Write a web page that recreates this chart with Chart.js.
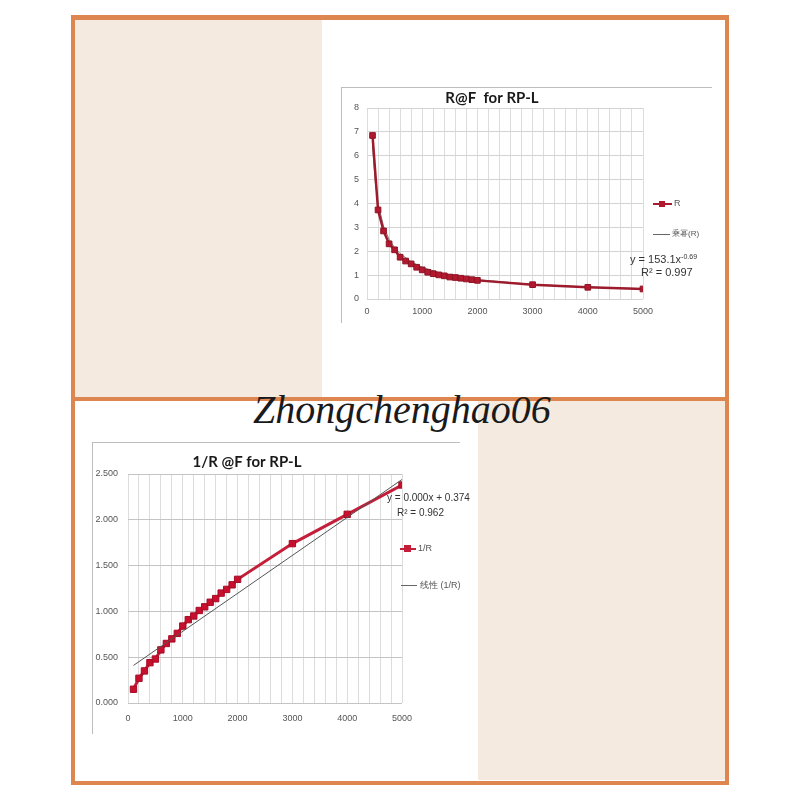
<!DOCTYPE html>
<html>
<head>
<meta charset="utf-8">
<script src="https://cdn.jsdelivr.net/npm/chart.js@4"></script>
<style>
  html,body{margin:0;padding:0;background:#fff;}
  body{width:800px;height:800px;position:relative;overflow:hidden;font-family:"Liberation Sans",Arial,sans-serif;}
  .abs{position:absolute;}
  #frame{left:71px;top:15px;width:650px;height:761px;border:4px solid #de8650;border-top-width:5px;}
  #divider{left:71px;top:397px;width:658px;height:4px;background:#de8650;}
  .beige{background:#f4eadf;}
  .gl{background:#bdbdbd;}
  .txt{color:#555;font-size:9px;white-space:nowrap;line-height:1;}
  .eq{color:#333;font-size:11px;white-space:nowrap;line-height:1;}
  canvas{position:absolute;}
  #wm{left:0;width:804px;top:390px;text-align:center;font-family:"Liberation Serif","DejaVu Serif",serif;font-style:italic;font-size:40px;color:#1a1a1a;line-height:1;}
</style>
</head>
<body>
<div class="abs beige" style="left:75px;top:20px;width:247px;height:377px;"></div>
<div class="abs beige" style="left:478px;top:401px;width:247px;height:379px;"></div>
<div id="frame" class="abs"></div>
<div id="divider" class="abs"></div>

<!-- chart frames -->
<div class="abs gl" style="left:341px;top:87px;width:371px;height:1px;"></div>
<div class="abs gl" style="left:341px;top:87px;width:1px;height:236px;"></div>
<div class="abs gl" style="left:92px;top:442px;width:368px;height:1px;"></div>
<div class="abs gl" style="left:92px;top:442px;width:1px;height:292px;"></div>

<canvas id="c1" width="406" height="240" style="left:341px;top:87px;"></canvas>
<canvas id="c2" width="370" height="292" style="left:92px;top:442px;"></canvas>

<!-- top legend & equation -->
<div class="abs" style="left:653px;top:203px;width:19px;height:2px;background:#a51c30;"></div>
<div class="abs" style="left:659px;top:201px;width:6px;height:6px;background:#b3182f;"></div>
<div class="abs txt" style="left:674px;top:199px;">R</div>
<div class="abs" style="left:653px;top:234px;width:17px;height:1px;background:#666;"></div>
<div class="abs txt" style="left:672px;top:230px;font-size:8px;">乘幂(R)</div>
<div class="abs eq" style="left:630px;top:254px;">y = 153.1x<sup style="font-size:7px;vertical-align:4px;line-height:0;">-0.69</sup></div>
<div class="abs eq" style="left:641px;top:267px;">R² = 0.997</div>

<!-- bottom legend & equation -->
<div class="abs" style="left:400px;top:548px;width:16px;height:2px;background:#c41e3a;"></div>
<div class="abs" style="left:404px;top:545px;width:7px;height:7px;background:#c41e3a;"></div>
<div class="abs txt" style="left:418px;top:544px;">1/R</div>
<div class="abs" style="left:401px;top:585px;width:16px;height:1px;background:#666;"></div>
<div class="abs txt" style="left:420px;top:581px;">线性 (1/R)</div>
<div class="abs eq" style="left:387px;top:493px;font-size:10px;">y = 0.000x + 0.374</div>
<div class="abs eq" style="left:397px;top:508px;font-size:10px;">R² = 0.962</div>

<div id="wm" class="abs">Zhongchenghao06</div>

<script>
// ---- data ----
const freq = [100,200,300,400,500,600,700,800,900,1000,1100,1200,1300,1400,1500,1600,1700,1800,1900,2000,3000,4000,5000];
const rValues = [6.85,3.73,2.85,2.31,2.06,1.75,1.59,1.47,1.33,1.22,1.12,1.06,1.01,0.97,0.92,0.90,0.87,0.84,0.81,0.78,0.60,0.49,0.42];
const invRValues = [0.15,0.27,0.35,0.44,0.48,0.58,0.65,0.70,0.76,0.84,0.91,0.95,1.01,1.05,1.10,1.14,1.20,1.24,1.29,1.35,1.74,2.06,2.38];
const powerTrendX = [100,150,200,300,400,500,600,800,1000,1300,1600,2000,3000,4000,5000];
const powerTrendY = [6.4,4.9,4.0,3.05,2.5,2.15,1.9,1.56,1.33,1.11,0.96,0.81,0.61,0.50,0.43];
const linTrendX = [100,5000];
const linTrendY = [0.41,2.44];
const xTicks = [0,1000,2000,3000,4000,5000];
const yTicksTop = [0,1,2,3,4,5,6,7,8];
const yTicksBottom = ["0.000","0.500","1.000","1.500","2.000","2.500"];
const titleTop = "R@F  for RP-L";
const titleBottom = "1/R @F for RP-L";

const pts = (xs, ys) => xs.map((x,i)=>({x:x,y:ys[i]}));
const tickFont = {family:"Liberation Sans", size:9};

function makeChart(id, cfg){
  return new Chart(document.getElementById(id), {
    type:'scatter',
    data:{datasets:cfg.datasets},
    options:{
      responsive:false, animation:false, devicePixelRatio:1,
      layout:{padding:{left:0,right:cfg.padRight,top:0,bottom:0}},
      plugins:{
        legend:{display:false}, tooltip:{enabled:false},
        title:{display:true,text:cfg.title,color:'#1a1a1a',
          font:{family:"Lato", size:15, weight:'bold', lineHeight:1.2},
          padding:cfg.titlePad}
      },
      scales:{
        x:{type:'linear',min:0,max:5000,
          afterFit:s=>{s.height=cfg.xH;},
          afterBuildTicks:s=>{const t=[];for(let v=0;v<=5000;v+=200)t.push({value:v});s.ticks=t;},
          ticks:{autoSkip:false,maxRotation:0,color:'#555',font:tickFont,padding:cfg.xPad,
            callback:v=> xTicks.includes(v)? String(v):''},
          grid:{color:cfg.vGrid,drawTicks:false},
          border:{display:false}
        },
        y:{type:'linear',min:0,max:cfg.yMax,
          afterFit:s=>{s.width=cfg.yW;},
          afterBuildTicks:s=>{s.ticks=cfg.yTicks.map(v=>({value:Number(v)}));},
          ticks:{color:'#555',font:tickFont,padding:cfg.yPad,
            callback:(v,i)=> String(cfg.yTicks[i])},
          grid:{color:cfg.hGrid,drawTicks:false},
          border:{display:false}
        }
      }
    }
  });
}

makeChart('c1',{
  title:titleTop, titlePad:{top:2,bottom:1}, padRight:104, xH:28, yW:26, xPad:7, yPad:8,
  yMax:8, yTicks:yTicksTop, vGrid:'#dcdcdc', hGrid:'#d4d4d4',
  datasets:[
    {label:'R', data:pts(freq,rValues), showLine:true, borderColor:'#9e1b2d', borderWidth:2.5,
     pointStyle:'rect', pointRadius:4, pointBackgroundColor:'#b3182f', pointBorderColor:'#8e1526', pointBorderWidth:1, order:1},
    {label:'乘幂(R)', data:pts(powerTrendX,powerTrendY), showLine:true, borderColor:'#777', borderWidth:1, pointRadius:0, order:2}
  ]
});

makeChart('c2',{
  title:titleBottom, titlePad:{top:11,bottom:3}, padRight:60, xH:31, yW:36, xPad:10, yPad:10,
  yMax:2.5, yTicks:yTicksBottom, vGrid:'#dcdcdc', hGrid:'#c4c4c4',
  datasets:[
    {label:'线性 (1/R)', data:pts(linTrendX,linTrendY), showLine:true, borderColor:'#555', borderWidth:1, pointRadius:0, order:0},
    {label:'1/R', data:pts(freq,invRValues), showLine:true, borderColor:'#c41e3a', borderWidth:3,
     pointStyle:'rect', pointRadius:4.5, pointBackgroundColor:'#c8102e', pointBorderColor:'#a50d26', pointBorderWidth:1, order:1}
  ]
});
</script>
</body>
</html>
